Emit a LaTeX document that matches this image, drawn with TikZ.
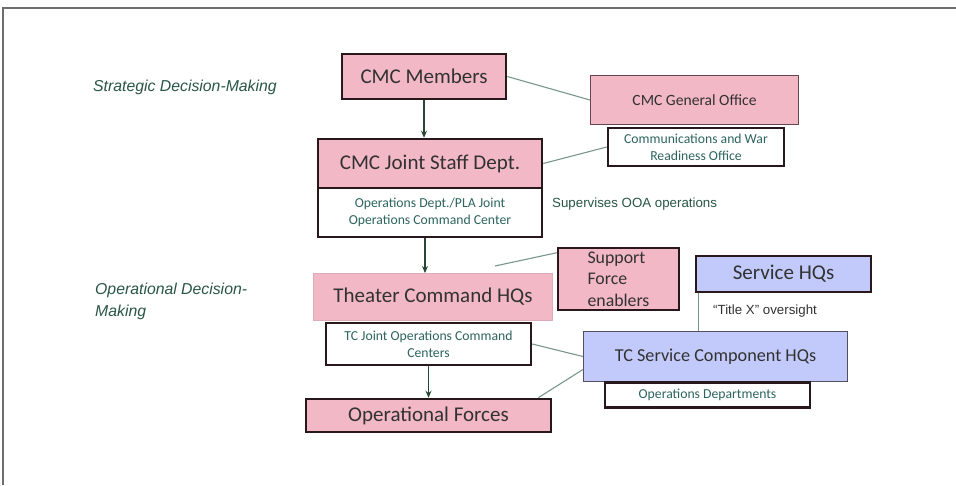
\documentclass[tikz,border=0pt]{standalone}
\usepackage{fontspec}
\setmainfont{Carlito}
\newfontfamily\arial{Liberation Sans}
\usetikzlibrary{arrows.meta}
\definecolor{pinkfill}{RGB}{242,184,198}
\definecolor{bluefill}{RGB}{193,202,250}
\definecolor{edge}{RGB}{40,24,28}
\definecolor{boxtext}{RGB}{50,50,50}
\definecolor{tealtext}{RGB}{45,100,95}
\definecolor{labeltext}{RGB}{40,85,70}
\definecolor{linkgray}{RGB}{120,150,140}
\definecolor{arrowgreen}{RGB}{40,70,55}
\definecolor{framegray}{RGB}{110,110,110}
\tikzset{
  bigtext/.style={font=\fontsize{21}{25}\selectfont, text=boxtext},
  smalltext/.style={font=\fontsize{13.7}{17}\selectfont, text=tealtext, align=center},
  pinkbox/.style={draw=edge, line width=2.5pt, fill=pinkfill, inner sep=0pt, bigtext},
  softpink/.style={draw=#1, line width=1pt, fill=pinkfill, inner sep=0pt, bigtext},
  bluebox/.style={draw=edge, line width=2.5pt, fill=bluefill, inner sep=0pt, bigtext},
  whitebox/.style={draw=edge, line width=2.5pt, fill=white, inner sep=0pt, smalltext},
  link/.style={draw=linkgray, line width=1.1pt},
  arr/.style={draw=arrowgreen, line width=1.1pt, -{Stealth[length=7pt,width=6pt]}},
  sidelabel/.style={font=\arial\itshape\fontsize{15.8}{22}\selectfont, text=labeltext, align=left, anchor=west, inner sep=0pt},
  note/.style={font=\arial\fontsize{13.3}{16}\selectfont, anchor=west, inner sep=0pt}
}
\begin{document}
\begin{tikzpicture}[x=1pt,y=-1pt]
\useasboundingbox (0,0) rectangle (956,485);
\draw[framegray, line width=1.5pt] (956,8) -- (3,8) -- (3,485);

\node[sidelabel] (strat) at (93,87) {Strategic Decision-Making};
\node[sidelabel] (oper) at (95,301) {Operational Decision-\\Making};

\node[pinkbox, minimum width=164pt, minimum height=45pt] (cmc) at (424,76.5) {CMC Members};
\node[pinkbox, minimum width=224pt, minimum height=49pt] (js) at (430,163.5) {CMC Joint Staff Dept.};
\node[whitebox, minimum width=224pt, minimum height=49pt] (jsops) at (430,212.5) {Operations Dept./PLA Joint\\Operations Command Center};
\node[softpink=edge!70!pinkfill, minimum width=208pt, minimum height=49pt, font=\fontsize{15.6}{19}\selectfont] (genoff) at (694.5,100) {CMC General Office};
\node[whitebox, minimum width=176pt, minimum height=38pt] (comms) at (696,147) {Communications and War\\Readiness Office};
\node[note, text=labeltext] (ooa) at (552,204) {Supervises OOA operations};

\node[softpink=pinkfill!80!gray, minimum width=239pt, minimum height=47pt] (theater) at (433,297) {Theater Command HQs};
\node[whitebox, minimum width=205pt, minimum height=42pt] (tcjoc) at (428.5,344) {TC Joint Operations Command\\Centers};
\node[pinkbox, minimum width=245pt, minimum height=33pt] (opforces) at (428.5,415.5) {Operational Forces};
\node[pinkbox, minimum width=121pt, minimum height=62pt, align=left, font=\fontsize{17.8}{21.5}\selectfont] (support) at (618.5,279) {Support\\Force\\enablers};

\node[bluebox, minimum width=175pt, minimum height=36pt] (svchq) at (783.5,274) {Service HQs};
\node[bluebox, draw=edge!70!bluefill, line width=1.2pt, minimum width=264pt, minimum height=50pt, font=\fontsize{18.2}{22}\selectfont] (tcsvc) at (715.5,356.5) {TC Service Component HQs};
\node[whitebox, minimum width=205pt, minimum height=25pt] (opsdep) at (707.5,395) {Operations Departments};
\node[note, text=boxtext] (titlex) at (713,311) {“Title X” oversight};

\draw[arr] (cmc.south) -- (cmc.south |- js.north);
\draw[arr] ([xshift=-5pt]jsops.south) -- ([xshift=-5pt]jsops.south |- theater.north);
\draw[arr] (tcjoc.south) -- (opforces.north);

\coordinate (suplink) at (495,266);
\draw[link] (cmc.east) -- (genoff.west);
\draw[link] (js.east) -- (comms.west);
\draw[link] (suplink) -- ([yshift=-6pt]support.north west);
\draw[link] (tcjoc.east) -- (tcsvc.west);
\draw[link] ([xshift=-14pt]opforces.north east) -- ([yshift=-13pt]tcsvc.west);
\draw[link] ([xshift=4pt]svchq.south west) -- ([xshift=4pt]svchq.south west |- tcsvc.north);
\end{tikzpicture}
\end{document}
